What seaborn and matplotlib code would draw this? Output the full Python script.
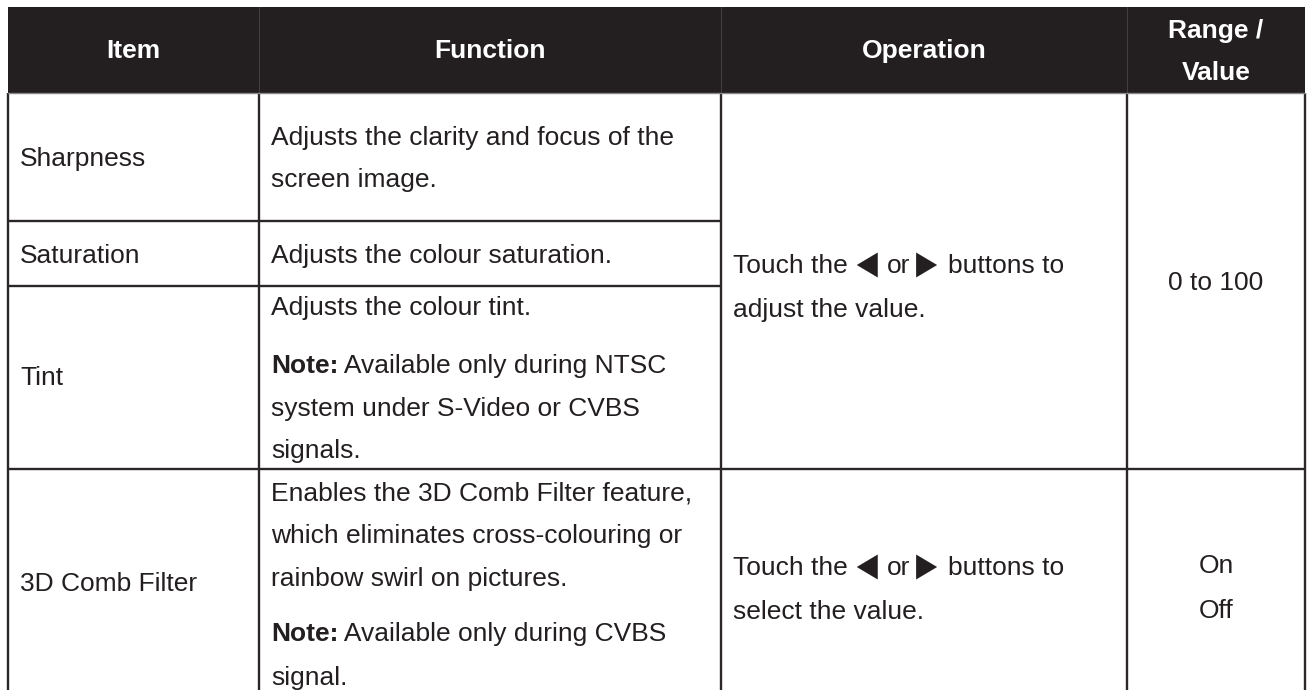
import matplotlib
matplotlib.use("Agg")
import matplotlib.pyplot as plt
import seaborn as sns

sns.set_theme(style="white")
plt.rcParams["font.family"] = ["Liberation Sans", "DejaVu Sans"]

# ---- table content ----
headers = ["Item", "Function", "Operation", "Range /\nValue"]
items = ["Sharpness", "Saturation", "Tint", "3D Comb Filter"]
functions = [
    [("", "Adjusts the clarity and focus of the"), ("", "screen image.")],
    [("", "Adjusts the colour saturation.")],
    [("", "Adjusts the colour tint."),
     ("Note:", " Available only during NTSC"),
     ("", "system under S-Video or CVBS"),
     ("", "signals.")],
    [("", "Enables the 3D Comb Filter feature,"),
     ("", "which eliminates cross-colouring or"),
     ("", "rainbow swirl on pictures."),
     ("Note:", " Available only during CVBS"),
     ("", "signal.")],
]
# first line of each operation cell: text pieces around the left/right arrows
op_first = ["Touch the", "or", "buttons to"]
op_second = ["adjust the value.", "select the value."]
ranges = [["0 to 100"], ["On", "Off"]]

# ---- layout (pixel geometry) ----
W, H = 1307, 690
col_x = [8, 259, 721, 1127, 1305]
row_y = [7, 93, 221, 286, 469, 690]
DARK = "#231f20"
FS = 19

fig = plt.figure(figsize=(W / 100, H / 100), dpi=100)
ax = fig.add_axes([0, 0, 1, 1])
ax.set_xlim(0, W)
ax.set_ylim(H, 0)
ax.axis("off")
renderer = fig.canvas.get_renderer()


def text_right(t):
    bb = t.get_window_extent(renderer=renderer)
    inv = ax.transData.inverted()
    return inv.transform((bb.x1, bb.y0))[0]


# header background
ax.fill_between([col_x[0], col_x[-1]], row_y[0], row_y[1], color=DARK, lw=0)
for x in col_x[1:-1]:
    ax.plot([x, x], [row_y[0], row_y[1]], color="#4a4647", lw=0.6)

# header text
for i, h in enumerate(headers):
    cx = (col_x[i] + col_x[i + 1]) / 2
    if "\n" in h:
        l1, l2 = h.split("\n")
        ax.text(cx, 30 + 8, l1, ha="center", va="baseline", color="white",
                fontsize=FS, weight="bold")
        ax.text(cx, 72 + 8, l2, ha="center", va="baseline", color="white",
                fontsize=FS, weight="bold")
    else:
        ax.text(cx, 50 + 8, h, ha="center", va="baseline", color="white",
                fontsize=FS, weight="bold")

# grid lines
LW = 1.7
LC = "#2b2728"
for x in col_x:
    ax.plot([x, x], [row_y[1], H], color=LC, lw=LW, solid_capstyle="butt")
ax.plot([col_x[0], col_x[-1]], [row_y[1], row_y[1]], color="#8a8788", lw=1.0)
for y in row_y[2:5]:
    ax.plot([col_x[0], col_x[2]], [y, y], color=LC, lw=LW, solid_capstyle="butt")
ax.plot([col_x[2], col_x[-1]], [row_y[4], row_y[4]], color=LC, lw=LW,
        solid_capstyle="butt")

# item column
item_y = [158, 255, 377, 583]
for name, y in zip(items, item_y):
    ax.text(col_x[0] + 12, y + 8, name, ha="left", va="baseline",
            color=DARK, fontsize=FS)

# function column
func_y = [[137, 179], [255], [307, 365, 408, 450], [492, 535, 578, 633, 677]]
for lines, ys in zip(functions, func_y):
    for (bold, rest), y in zip(lines, ys):
        x = col_x[1] + 12
        if bold:
            t = ax.text(x, y + 8, bold, ha="left", va="baseline", color=DARK,
                        fontsize=FS, weight="bold")
            ax.text(text_right(t), y + 8, rest, ha="left", va="baseline",
                    color=DARK, fontsize=FS)
        else:
            ax.text(x, y + 8, rest, ha="left", va="baseline", color=DARK,
                    fontsize=FS)


def triangle(x0, yc, left, w=21, h=25):
    if left:
        xs = [x0 + w, x0 + w, x0]
    else:
        xs = [x0, x0, x0 + w]
    ys = [yc - h / 2, yc + h / 2, yc]
    ax.fill(xs, ys, color=DARK, lw=0)
    return x0 + w


# operation column
op_y = [[265, 309], [567, 611]]
for second, ys in zip(op_second, op_y):
    y1, y2 = ys
    x = col_x[2] + 12
    t = ax.text(x, y1 + 8, op_first[0], ha="left", va="baseline", color=DARK,
                fontsize=FS)
    x = triangle(text_right(t) + 9, y1, True)
    t = ax.text(x + 9, y1 + 8, op_first[1], ha="left", va="baseline",
                color=DARK, fontsize=FS)
    x = triangle(text_right(t) + 6, y1, False)
    ax.text(x + 11, y1 + 8, op_first[2], ha="left", va="baseline", color=DARK,
            fontsize=FS)
    ax.text(col_x[2] + 12, y2 + 8, second, ha="left", va="baseline",
            color=DARK, fontsize=FS)

# range column
rng_y = [[282], [565, 610]]
cx = (col_x[3] + col_x[4]) / 2
for lines, ys in zip(ranges, rng_y):
    for s, y in zip(lines, ys):
        ax.text(cx, y + 8, s, ha="center", va="baseline", color=DARK,
                fontsize=FS)

fig.savefig("out.png", dpi=100, facecolor="white")
